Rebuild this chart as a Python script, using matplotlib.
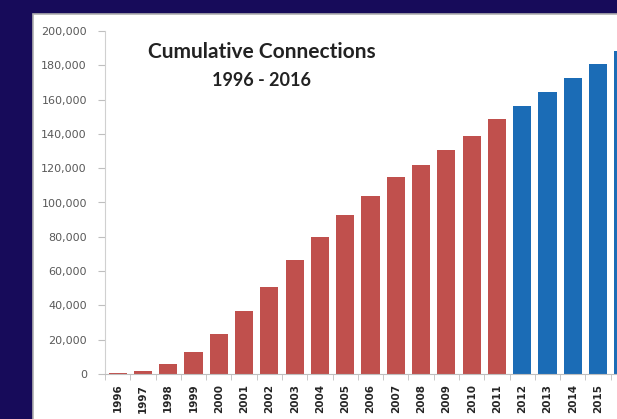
import matplotlib.pyplot as plt
from matplotlib.patches import Rectangle
from matplotlib.ticker import FuncFormatter, FixedLocator
import numpy as np

years = [str(y) for y in range(1996, 2017)]
connections = [500, 1500, 6000, 13000, 23500, 36500, 51000, 66500, 80000, 93000,
               104000, 115000, 122000, 130500, 139000, 148500,
               156500, 164500, 172500, 180500, 188500]
projected_from = "2012"

red = "#c0504d"
blue = "#1b6cb6"
navy = "#170b5a"

W, H = 617, 419
fig = plt.figure(figsize=(W / 100, H / 100), dpi=100, facecolor=navy)

# white slide panel with a thin grey edge
panel = Rectangle((33 / W, -0.1), 1, 1.1 - 14 / H, transform=fig.transFigure,
                  facecolor="white", edgecolor="#b0b0b0", linewidth=1.2, zorder=-5)
fig.patches.append(panel)

# axes run past the right edge so the last bar gets clipped
left, right = 105 / W, 636 / W
bottom, top = 1 - 374 / H, 1 - 31 / H
ax = fig.add_axes([left, bottom, right - left, top - bottom])
ax.set_zorder(2)
ax.set_facecolor("none")

x = np.arange(len(years))
cut = years.index(projected_from)
colors = [red] * cut + [blue] * (len(years) - cut)
ax.bar(x, connections, width=0.72, color=colors, zorder=2)

ax.set_xlim(-0.5, len(years) - 0.5)
ax.set_ylim(0, 200000)
ax.set_yticks(range(0, 200001, 20000))
ax.yaxis.set_major_formatter(FuncFormatter(lambda v, p: f"{int(v):,}"))
ax.tick_params(axis="y", length=5, color="#bfbfbf", labelsize=8,
               labelcolor="#595959", pad=8)

ax.set_xticks(x)
ax.set_xticklabels(years, rotation=90, fontsize=7.5, fontweight="bold", color="#262626")
ax.tick_params(axis="x", length=0, pad=7)
ax.xaxis.set_minor_locator(FixedLocator(np.arange(-0.5, len(years), 1)))
ax.tick_params(axis="x", which="minor", length=4, color="#bfbfbf")

for side in ["top", "right"]:
    ax.spines[side].set_visible(False)
ax.spines["left"].set_color("#d0d0d0")
ax.spines["bottom"].set_color("#bfbfbf")

fig.text(262 / W, 1 - 52 / H, "Cumulative Connections", ha="center", va="center",
         fontsize=15, fontweight="bold", color="#222222", family="Lato")
fig.text(262 / W, 1 - 80 / H, "1996 - 2016", ha="center", va="center",
         fontsize=13, fontweight="bold", color="#222222", family="Lato")

fig.savefig("out.png", dpi=100, facecolor=navy)
